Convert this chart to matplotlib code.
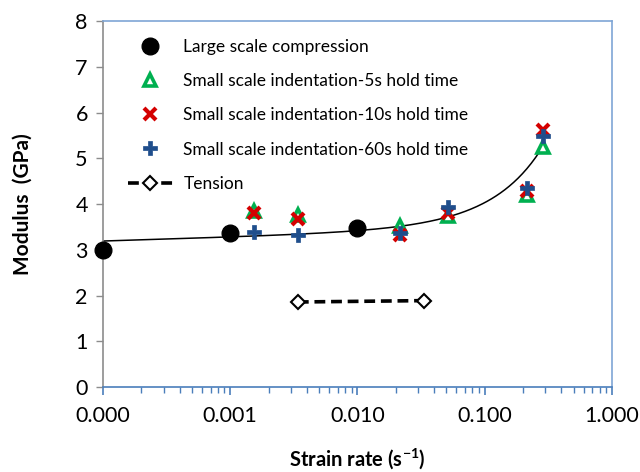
import numpy as np
import matplotlib
matplotlib.use('Agg')
import matplotlib.pyplot as plt
from matplotlib.ticker import LogLocator, FuncFormatter, NullFormatter

# data
comp_x = [1e-4, 1e-3, 1e-2]
comp_y = [2.99, 3.36, 3.48]

ind_x = [0.00153, 0.0034, 0.0215, 0.0517, 0.214, 0.288]
ind5_y = [3.84, 3.77, 3.52, 3.73, 4.20, 5.26]
ind10_y = [3.80, 3.67, 3.33, 3.80, 4.28, 5.62]
ind60_y = [3.39, 3.32, 3.37, 3.93, 4.36, 5.48]

ten_x = [0.0034, 0.0333]
ten_y = [1.86, 1.89]

# trend line samples
trend_x = [1e-4, 1e-3, 0.01, 0.0152, 0.0508, 0.111, 0.170, 0.230, 0.288]
trend_y = [3.16, 3.33, 3.45, 3.47, 3.65, 4.09, 4.52, 4.89, 5.25]

labels = ['Large scale compression',
          'Small scale indentation-5s hold time',
          'Small scale indentation-10s hold time',
          'Small scale indentation-60s hold time',
          'Tension']

plt.rcParams['font.family'] = ['Lato', 'DejaVu Sans']
plt.rcParams['mathtext.fontset'] = 'custom'
plt.rcParams['mathtext.rm'] = 'Lato'
plt.rcParams['mathtext.bf'] = 'Lato:bold'

fig = plt.figure(figsize=(6.4, 4.72), dpi=100)
ax = fig.add_axes([0.161, 0.180, 0.795, 0.775])

# smooth trend line: least squares fit of a + b*ln(x) + c*x + d*x^2 to the read samples
tx = np.array(trend_x)
A = np.column_stack([np.ones_like(tx), np.log(tx), tx, tx**2])
coef = np.linalg.lstsq(A, np.array(trend_y), rcond=None)[0]
xs = np.logspace(np.log10(tx[0]), np.log10(tx[-1]), 300)
ys = coef[0] + coef[1] * np.log(xs) + coef[2] * xs + coef[3] * xs**2
ax.plot(xs, ys, color='black', lw=1.1, zorder=2)

green = '#00b050'
red = '#d40000'
blue = '#1f4e8c'

ax.plot(comp_x, comp_y, 'o', color='black', ms=12, label=labels[0], zorder=5, clip_on=False)
ax.plot(ind_x, ind5_y, '^', mfc='white', mec=green, mew=2.6, ms=9, label=labels[1], zorder=3)
ax.plot(ind_x, ind10_y, 'x', color=red, mew=3, ms=9, label=labels[2], zorder=4)
ax.plot(ind_x, ind60_y, 'P', color=blue, mec=blue, ms=9.5, mew=0.5, label=labels[3], zorder=5)
ax.plot(ten_x, ten_y, '--', color='black', lw=2.6, dashes=(3, 1.6), marker='D', mfc='white',
        mec='black', mew=1.5, ms=7, label=labels[4], zorder=4)

ax.set_xscale('log')
ax.set_xlim(1e-4, 1)
ax.set_ylim(0, 8)
ax.set_yticks(range(0, 9))

ax.xaxis.set_major_locator(LogLocator(base=10, numticks=10))
ax.xaxis.set_minor_locator(LogLocator(base=10, subs=np.arange(2, 10), numticks=20))
ax.xaxis.set_major_formatter(FuncFormatter(lambda v, p: '%.3f' % v))
ax.xaxis.set_minor_formatter(NullFormatter())

spine_blue = '#4a7ebb'
grey = '#8c8c8c'
ax.spines['left'].set_color(grey)
ax.spines['bottom'].set_color(spine_blue)
ax.spines['top'].set_color('#7fa6d6')
ax.spines['right'].set_color('#7fa6d6')
for s in ax.spines.values():
    s.set_linewidth(1.2)

ax.tick_params(axis='y', which='both', direction='out', color=grey, length=5, width=1,
               labelsize=15.5, pad=6)
ax.tick_params(axis='x', which='major', direction='out', color=spine_blue, length=6, width=1.2,
               labelsize=15.5, pad=8)
ax.tick_params(axis='x', which='minor', direction='out', color=spine_blue, length=4, width=1)

ax.set_xlabel(r'Strain rate (s$^{\mathbf{-1}}$)', fontsize=14.5, fontweight='bold', labelpad=14)
ax.set_ylabel('Modulus  (GPa)', fontsize=15, fontweight='bold', labelpad=31)

leg = ax.legend(loc='upper left', bbox_to_anchor=(0.025, 0.985), frameon=False, fontsize=12.5,
                labelspacing=1.05, handlelength=2.6, handletextpad=0.6, borderaxespad=0.3,
                numpoints=1)

fig.savefig('out.png', dpi=100)
